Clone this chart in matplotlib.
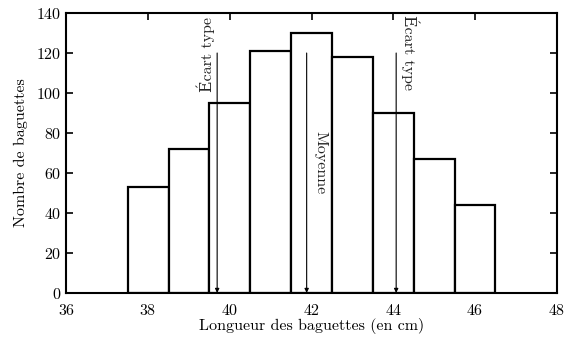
import numpy as np
import matplotlib.pyplot as plt

# données de l'histogramme
bornes = [37.5, 38.5, 39.5, 40.5, 41.5, 42.5, 43.5, 44.5, 45.5, 46.5]
effectifs = [53, 72, 95, 121, 130, 118, 90, 67, 44]
moyenne = 41.88
ecart = 2.19
haut_fleche = 120

plt.rcParams['font.family'] = ['cmr10', 'DejaVu Serif']
plt.rcParams['axes.formatter.use_mathtext'] = True
plt.rcParams['mathtext.fontset'] = 'cm'

fig, ax = plt.subplots(figsize=(5.67, 3.43), dpi=100)
fig.subplots_adjust(left=0.117, right=0.982, top=0.962, bottom=0.146)

largeurs = np.diff(bornes)
ax.bar(bornes[:-1], effectifs, width=largeurs, align='edge',
       facecolor='white', edgecolor='black', linewidth=1.6, zorder=2)

# flèches
for x in [moyenne - ecart, moyenne, moyenne + ecart]:
    ax.annotate('', xy=(x, 0), xytext=(x, haut_fleche),
                arrowprops=dict(arrowstyle='-|>', color='black', lw=0.8,
                                mutation_scale=6, shrinkA=0, shrinkB=0),
                zorder=3)

ax.text(moyenne - ecart - 0.29, 138, 'Écart type', rotation=90,
        ha='center', va='top', fontsize=11.5, color='#222222')
ax.text(moyenne + 0.33, 81, 'Moyenne', rotation=-90,
        ha='center', va='top', fontsize=11.5, color='#222222')
ax.text(moyenne + ecart + 0.34, 139, 'Écart type', rotation=-90,
        ha='center', va='top', fontsize=11.5, color='#222222')

ax.set_xlim(36, 48)
ax.set_ylim(0, 140)
ax.set_xticks(np.arange(36, 49, 2))
ax.set_yticks(np.arange(0, 141, 20))
ax.tick_params(direction='in', top=True, right=True, length=5, width=1.2,
               labelsize=11.5)
ax.tick_params(axis='x', pad=7)
for s in ax.spines.values():
    s.set_linewidth(1.5)

ax.set_xlabel('Longueur des baguettes (en cm)', fontsize=11.5, labelpad=0)
ax.set_ylabel('Nombre de baguettes', fontsize=11.5, labelpad=6)

plt.savefig('out.png', dpi=100)
